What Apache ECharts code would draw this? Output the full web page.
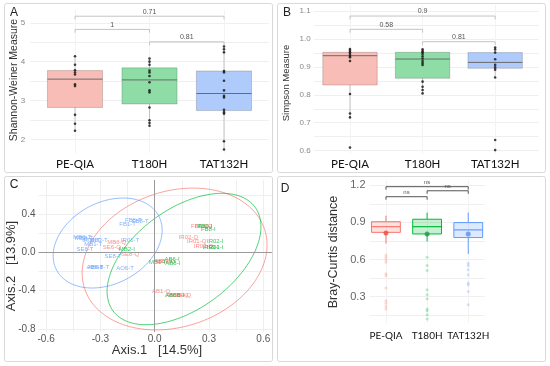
<!DOCTYPE html>
<html><head><meta charset="utf-8">
<script src="https://cdn.jsdelivr.net/npm/echarts@6/dist/echarts.min.js"></script>
<style>html,body{margin:0;padding:0;background:#fff}#c{width:550px;height:366px}</style>
</head><body><div id="c"></div>
<script>
// ---------- shared ----------
const categories = ['PE-QIA', 'T180H', 'TAT132H'];
const groupColors = ['#F8766D', '#00BA38', '#619CFF'];

// ---------- Panel A: Shannon ----------
// [whiskerLow, Q1, median, Q3, whiskerHigh]
const shannonBox = [
  [2.22, 2.82, 3.55, 3.77, 4.14],
  [2.35, 2.91, 3.53, 3.84, 4.08],
  [1.74, 2.74, 3.18, 3.76, 4.39]
];
const shannonPoints = [
  [4.14, 3.92, 3.78, 3.72, 3.67, 3.42, 3.37, 2.63, 2.40, 2.22],
  [4.08, 4.00, 3.92, 3.77, 3.72, 3.63, 3.47, 3.26, 3.21, 2.82, 2.49, 2.42, 2.35],
  [4.39, 4.32, 4.24, 3.76, 3.72, 3.51, 3.26, 3.12, 3.08, 2.76, 2.70, 2.66, 1.95, 1.74]
];
const shannonBrackets = [[1, 3, 5.17], [1, 2, 4.83], [2, 3, 4.51]];
const shannonBracketLabels = ['0.71', '1', '0.81'];
const shannonTicks = [2, 3, 4, 5];

// ---------- Panel B: Simpson ----------
const simpsonBox = [
  [0.719, 0.835, 0.940, 0.952, 0.964],
  [0.805, 0.859, 0.928, 0.952, 0.963],
  [0.862, 0.895, 0.916, 0.951, 0.969]
];
const simpsonPoints = [
  [0.964, 0.958, 0.952, 0.946, 0.939, 0.934, 0.921, 0.803, 0.733, 0.719, 0.611],
  [0.963, 0.957, 0.952, 0.946, 0.938, 0.930, 0.921, 0.914, 0.907, 0.847, 0.829, 0.817, 0.805],
  [0.969, 0.962, 0.951, 0.927, 0.907, 0.898, 0.890, 0.862, 0.638, 0.602]
];
const simpsonBrackets = [[1, 3, 1.082], [1, 2, 1.0345], [2, 3, 0.99]];
const simpsonBracketLabels = ['0.9', '0.58', '0.81'];
const simpsonTicks = [0.6, 0.7, 0.8, 0.9, 1.0, 1.1];

// ---------- Panel C: PCoA ----------
const pcoaQIA = [
  [0.25, 0.275, 'FB6-Q'], [0.27, 0.268, 'FB8-Q'], [0.186, 0.157, 'IR02-Q'], [0.232, 0.11, 'IR01-Q'],
  [0.269, 0.058, 'IR03-Q'], [-0.21, 0.10, 'MB6-Q'], [-0.237, 0.048, 'SE6-Q'], [-0.136, -0.018, 'SE8-Q'],
  [0.046, -0.09, 'AB6-Q'], [0.06, -0.095, 'MB1-Q'], [0.035, -0.405, 'AB1-Q'], [0.125, -0.445, 'AB6B-Q'],
  [0.14, -0.45, 'AB6D-Q']
];
const pcoaT180 = [
  [0.278, 0.267, 'FB6-I'], [0.296, 0.24, 'FB8-I'], [0.334, 0.11, 'IR02-I'], [0.334, 0.052, 'IR01-I'],
  [0.31, 0.05, 'IR03-I'], [-0.154, 0.03, 'MB2-I'], [0.013, -0.10, 'MB1-I'], [0.096, -0.07, 'AB6-I'],
  [0.10, -0.11, 'AB8-I'], [0.11, -0.445, 'AB6B-I']
];
const pcoaTAT = [
  [-0.118, 0.33, 'FB6-T'], [-0.08, 0.32, 'FB8-T'], [-0.15, 0.29, 'FB1-T'], [-0.40, 0.157, 'MB6-T'],
  [-0.39, 0.15, 'MB8-T'], [-0.35, 0.125, 'IR03-T'], [-0.31, 0.125, 'MB3-T'], [-0.34, 0.08, 'MB1-T'],
  [-0.385, 0.035, 'SE6-T'], [-0.136, 0.12, 'IR01-T'], [-0.23, -0.046, 'SE8-T'], [-0.33, -0.16, 'AB6-T'],
  [-0.31, -0.16, 'AB6B-T'], [-0.164, -0.167, 'AO6-T']
];
// ellipse: [centerX, centerY, semiAxis1 dx, dy, semiAxis2 dx, dy] (data units), order = groups
const pcoaEllipses = [
  [0.110, -0.070, 0.497, 0.311, -0.118, 0.672],
  [0.162, -0.070, 0.393, 0.540, -0.162, 0.423],
  [-0.260, 0.097, 0.282, 0.283, -0.1055, 0.375]
];
const pcoaXTicks = [-0.6, -0.3, 0, 0.3, 0.6];
const pcoaYTicks = [-0.8, -0.4, 0, 0.4];

// ---------- Panel D: Bray-Curtis ----------
const brayBox = [
  [0.73, 0.82, 0.866, 0.906, 0.955],
  [0.746, 0.807, 0.866, 0.926, 0.98],
  [0.646, 0.778, 0.84, 0.899, 0.98]
];
const brayMean = [0.815, 0.807, 0.807];
const brayOutliers = [
  [0.638, 0.619, 0.598, 0.579, 0.485, 0.469, 0.37, 0.267, 0.248, 0.222, 0.2],
  [0.619, 0.552, 0.512, 0.356, 0.315, 0.283, 0.2, 0.186, 0.154, 0.12],
  [0.571, 0.552, 0.517, 0.477, 0.41, 0.397, 0.343, 0.235]
];
const brayBrackets = [[1, 3, 1.189], [2, 3, 1.156], [1, 2, 1.108]];
const brayBracketLabels = ['ns', 'ns', 'ns'];
const brayTicks = [0.3, 0.6, 0.9, 1.2];

// ---------- helpers ----------
const boxFills = ['#F9BDB8', '#8EDCA6', '#AFCBFB'];
const boxFillsD = ['rgba(248,118,109,0.22)', 'rgba(0,186,56,0.22)', 'rgba(97,156,255,0.22)'];
const meanColorsD = ['#EE4B44', '#1F9A4C', '#5A8FEE'];
const outlierColorsD = ['rgba(248,118,109,0.35)', 'rgba(0,186,56,0.35)', 'rgba(97,156,255,0.35)'];

function boxRender(widthUnits, mode) {
  return function (params, api) {
    const i = params.dataIndex;
    const x = api.value(0);
    const p = k => api.coord([x, api.value(k)]);
    const lo = p(1), q1 = p(2), md = p(3), q3 = p(4), hi = p(5);
    const w = api.size([widthUnits, 0])[0];
    const cx = lo[0];
    const ch = [];
    if (mode === 'D') {
      ch.push({ type: 'line', shape: { x1: cx, y1: hi[1], x2: cx, y2: q3[1] }, style: { stroke: groupColors[i], lineWidth: 1 } });
      ch.push({ type: 'line', shape: { x1: cx, y1: q1[1], x2: cx, y2: lo[1] }, style: { stroke: groupColors[i], lineWidth: 1 } });
      ch.push({ type: 'rect', shape: { x: cx - w / 2, y: q3[1], width: w, height: q1[1] - q3[1] }, style: { fill: boxFillsD[i], stroke: groupColors[i], lineWidth: 1 } });
      ch.push({ type: 'line', shape: { x1: cx - w / 2, y1: md[1], x2: cx + w / 2, y2: md[1] }, style: { stroke: groupColors[i], lineWidth: 1.2 } });
    } else {
      ch.push({ type: 'line', shape: { x1: cx, y1: hi[1], x2: cx, y2: lo[1] }, style: { stroke: '#b5b5b5', lineWidth: 0.8 } });
      ch.push({ type: 'rect', shape: { x: cx - w / 2, y: q3[1], width: w, height: q1[1] - q3[1] }, style: { fill: boxFills[i], stroke: 'rgba(0,0,0,0.22)', lineWidth: 0.8 } });
      ch.push({ type: 'line', shape: { x1: cx - w / 2, y1: md[1], x2: cx + w / 2, y2: md[1] }, style: { stroke: '#6b6b6b', lineWidth: 1 } });
    }
    return { type: 'group', children: ch };
  };
}

function bracketRender(labels, color, drop, fontSize, textColor) {
  return function (params, api) {
    const a = api.coord([api.value(0), api.value(2)]);
    const b = api.coord([api.value(1), api.value(2)]);
    return {
      type: 'group', children: [
        { type: 'polyline', shape: { points: [[a[0], a[1] + drop], [a[0], a[1]], [b[0], b[1]], [b[0], b[1] + drop]] }, style: { stroke: color, fill: null, lineWidth: 1 } },
        { type: 'text', style: { text: labels[params.dataIndex], x: (a[0] + b[0]) / 2, y: a[1] - 1, align: 'center', verticalAlign: 'bottom', fontSize: fontSize, fontFamily: 'Liberation Sans', fill: textColor } }
      ]
    };
  };
}

function ellipseRender(params, api) {
  const cx = api.value(0), cy = api.value(1), ux = api.value(2), uy = api.value(3), vx = api.value(4), vy = api.value(5);
  const pts = [];
  for (let k = 0; k <= 144; k++) {
    const t = 2 * Math.PI * k / 144;
    pts.push(api.coord([cx + ux * Math.cos(t) + vx * Math.sin(t), cy + uy * Math.cos(t) + vy * Math.sin(t)]));
  }
  return { type: 'polyline', shape: { points: pts }, style: { stroke: groupColors[params.dataIndex], fill: null, lineWidth: 0.9, opacity: 0.75 } };
}

const gridColor = '#efefef';
function catXAxis(gi, min, max, margin, fontSize) {
  return {
    type: 'value', gridIndex: gi, min: min, max: max,
    axisLine: { show: false },
    axisTick: { show: false, customValues: [1, 2, 3] },
    axisLabel: { customValues: [1, 2, 3], formatter: v => categories[Math.round(v) - 1], margin: margin, fontSize: fontSize, color: '#111', fontFamily: 'Lato', showMinLabel: true, showMaxLabel: true, hideOverlap: false },
    splitLine: { show: true, lineStyle: { color: '#f3f3f3', width: 1 } }
  };
}
function valYAxis(gi, min, max, labels, ticks, fontSize, color, margin, fmt) {
  return {
    type: 'value', gridIndex: gi, min: min, max: max,
    axisLine: { show: false },
    axisTick: { show: false, customValues: ticks },
    axisLabel: { customValues: labels, formatter: fmt, fontSize: fontSize, color: color, margin: margin, fontFamily: 'Liberation Sans', showMinLabel: true, showMaxLabel: true },
    splitLine: { show: true, lineStyle: { color: gridColor, width: 1 } }
  };
}

const fmt1 = v => (Math.abs(v) < 1e-9 ? 0 : v).toFixed(1);

const option = {
  animation: false,
  backgroundColor: '#fff',
  grid: [
    { left: 30.3, top: 10, width: 238.4, height: 143 },
    { left: 313.7, top: 5, width: 225, height: 149 },
    { left: 38.5, top: 180, width: 233.5, height: 152 },
    { left: 369.5, top: 180, width: 115.2, height: 143 }
  ],
  xAxis: [
    catXAxis(0, 0.4, 3.6, 5, 11.5),
    catXAxis(1, 0.5, 3.6, 4, 11.5),
    {
      type: 'value', gridIndex: 2, min: -0.642, max: 0.648,
      axisLine: { show: false },
      axisTick: { show: false, customValues: [-0.6, -0.45, -0.3, -0.15, 0, 0.15, 0.3, 0.45, 0.6] },
      axisLabel: { customValues: pcoaXTicks, formatter: fmt1, fontSize: 10, color: '#555', margin: 2.5, fontFamily: 'Liberation Sans', showMinLabel: true, showMaxLabel: true },
      splitLine: { show: true, lineStyle: { color: gridColor } }
    },
    catXAxis(3, 0.6, 3.4, 8, 10)
  ],
  yAxis: [
    valYAxis(0, 1.648, 5.33, shannonTicks, [2, 2.5, 3, 3.5, 4, 4.5, 5], 8, '#888', 5, v => String(Math.round(v))),
    valYAxis(1, 0.588, 1.1215, simpsonTicks, [0.6, 0.65, 0.7, 0.75, 0.8, 0.85, 0.9, 0.95, 1.0, 1.05, 1.1], 8, '#888', 3, fmt1),
    valYAxis(2, -0.832, 0.755, pcoaYTicks, [-0.8, -0.6, -0.4, -0.2, 0, 0.2, 0.4, 0.6], 10, '#555', 3, fmt1),
    valYAxis(3, 0.0877, 1.243, brayTicks, [0.15, 0.3, 0.45, 0.6, 0.75, 0.9, 1.05, 1.2], 11, '#666', 4, fmt1)
  ],
  graphic: [
    { type: 'rect', shape: { x: 4.5, y: 3.5, width: 268, height: 169, r: 2 }, style: { fill: 'none', stroke: '#d9d9d9', lineWidth: 1 }, z: 100 },
    { type: 'rect', shape: { x: 277.5, y: 3.5, width: 268, height: 169, r: 2 }, style: { fill: 'none', stroke: '#d9d9d9', lineWidth: 1 }, z: 100 },
    { type: 'rect', shape: { x: 4.5, y: 176.5, width: 268, height: 185, r: 2 }, style: { fill: 'none', stroke: '#d9d9d9', lineWidth: 1 }, z: 100 },
    { type: 'rect', shape: { x: 277.5, y: 176.5, width: 268, height: 185, r: 2 }, style: { fill: 'none', stroke: '#d9d9d9', lineWidth: 1 }, z: 100 },
    { type: 'text', x: 14, y: 13, style: { text: 'A', fontSize: 12, fill: '#222', align: 'center', verticalAlign: 'middle', fontFamily: 'Liberation Sans' } },
    { type: 'text', x: 287, y: 13, style: { text: 'B', fontSize: 12, fill: '#222', align: 'center', verticalAlign: 'middle', fontFamily: 'Liberation Sans' } },
    { type: 'text', x: 14, y: 185, style: { text: 'C', fontSize: 12, fill: '#222', align: 'center', verticalAlign: 'middle', fontFamily: 'Liberation Sans' } },
    { type: 'text', x: 285, y: 189, style: { text: 'D', fontSize: 12, fill: '#222', align: 'center', verticalAlign: 'middle', fontFamily: 'Liberation Sans' } },
    { type: 'text', x: 14, y: 80, rotation: Math.PI / 2, style: { text: 'Shannon-Weiner Measure', fontSize: 10.5, fill: '#333', align: 'center', verticalAlign: 'middle', fontFamily: 'Liberation Sans' } },
    { type: 'text', x: 286, y: 83, rotation: Math.PI / 2, style: { text: 'Simpson Measure', fontSize: 9.5, fill: '#333', align: 'center', verticalAlign: 'middle', fontFamily: 'Liberation Sans' } },
    { type: 'text', x: 11, y: 266, rotation: Math.PI / 2, style: { text: 'Axis.2   [13.9%]', fontSize: 13, fill: '#333', align: 'center', verticalAlign: 'middle', fontFamily: 'Liberation Sans' } },
    { type: 'text', x: 157, y: 350, style: { text: 'Axis.1   [14.5%]', fontSize: 13, fill: '#333', align: 'center', verticalAlign: 'middle', fontFamily: 'Liberation Sans' } },
    { type: 'text', x: 334, y: 252, rotation: Math.PI / 2, style: { text: 'Bray-Curtis distance', fontSize: 12.5, fill: '#333', align: 'center', verticalAlign: 'middle', fontFamily: 'Liberation Sans' } }
  ],
  series: [
    // Panel A
    { type: 'custom', xAxisIndex: 0, yAxisIndex: 0, renderItem: boxRender(0.74, 'A'), encode: { x: 0, y: [1, 2, 3, 4, 5] },
      data: shannonBox.map((b, i) => [i + 1].concat(b)) },
    { type: 'scatter', xAxisIndex: 0, yAxisIndex: 0, symbolSize: 2.6, itemStyle: { color: '#111' },
      data: shannonPoints.flatMap((arr, i) => arr.map(v => [i + 1, v])), z: 5 },
    { type: 'custom', xAxisIndex: 0, yAxisIndex: 0, renderItem: bracketRender(shannonBracketLabels, '#c4c4c4', 3.3, 7, '#555'), encode: { x: [0, 1], y: 2 },
      data: shannonBrackets },
    // Panel B
    { type: 'custom', xAxisIndex: 1, yAxisIndex: 1, renderItem: boxRender(0.75, 'B'), encode: { x: 0, y: [1, 2, 3, 4, 5] },
      data: simpsonBox.map((b, i) => [i + 1].concat(b)) },
    { type: 'scatter', xAxisIndex: 1, yAxisIndex: 1, symbolSize: 2.6, itemStyle: { color: '#111' },
      data: simpsonPoints.flatMap((arr, i) => arr.map(v => [i + 1, v])), z: 5 },
    { type: 'custom', xAxisIndex: 1, yAxisIndex: 1, renderItem: bracketRender(simpsonBracketLabels, '#c4c4c4', 3.3, 7, '#555'), encode: { x: [0, 1], y: 2 },
      data: simpsonBrackets },
    // Panel C
    { type: 'custom', xAxisIndex: 2, yAxisIndex: 2, renderItem: ellipseRender, encode: { x: 0, y: 1 }, data: pcoaEllipses, z: 2,
      markLine: { silent: true, symbol: 'none', label: { show: false }, lineStyle: { color: '#9a9a9a', width: 1, type: 'solid' },
        data: [{ xAxis: 0 }, { yAxis: 0 }] } },
    ...[pcoaQIA, pcoaT180, pcoaTAT].map((arr, g) => ({
      type: 'scatter', xAxisIndex: 2, yAxisIndex: 2, symbolSize: 1, itemStyle: { color: 'rgba(0,0,0,0)' }, z: 4,
      data: arr.map(d => ({ value: [d[0], d[1]], name: d[2] })),
      label: { show: true, position: 'inside', formatter: '{b}', fontSize: 6, color: groupColors[g], fontFamily: 'Liberation Sans' }
    })),
    // Panel D
    { type: 'scatter', xAxisIndex: 3, yAxisIndex: 3, symbolSize: 3,
      itemStyle: { color: p => outlierColorsD[p.value[0] - 1] },
      data: brayOutliers.flatMap((arr, i) => arr.map(v => [i + 1, v])) },
    { type: 'custom', xAxisIndex: 3, yAxisIndex: 3, renderItem: boxRender(0.7, 'D'), encode: { x: 0, y: [1, 2, 3, 4, 5] },
      data: brayBox.map((b, i) => [i + 1].concat(b)) },
    { type: 'scatter', xAxisIndex: 3, yAxisIndex: 3, symbolSize: 5, z: 6,
      itemStyle: { color: p => meanColorsD[p.value[0] - 1] },
      data: brayMean.map((v, i) => [i + 1, v]) },
    { type: 'custom', xAxisIndex: 3, yAxisIndex: 3, renderItem: bracketRender(brayBracketLabels, '#555', 3, 6, '#555'), encode: { x: [0, 1], y: 2 },
      data: brayBrackets }
  ]
};

const chart = echarts.init(document.getElementById('c'), null, { renderer: 'canvas' });
chart.setOption(option);
</script>
</body></html>
